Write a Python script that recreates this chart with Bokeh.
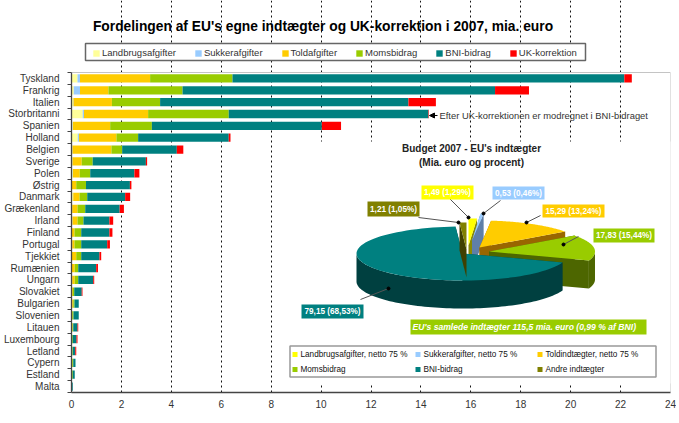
import numpy as np
from bokeh.embed import file_html
from bokeh.resources import INLINE
from bokeh.plotting import figure
from bokeh.models import (ColumnDataSource, FixedTicker, Label, Legend, LegendItem, Range1d,
                          Arrow, NormalHead)

categories = ["Tyskland", "Frankrig", "Italien", "Storbritanni", "Spanien", "Holland", "Belgien",
              "Sverige", "Polen", "Østrig", "Danmark", "Grækenland", "Irland", "Finland", "Portugal",
              "Tjekkiet", "Rumænien", "Ungarn", "Slovakiet", "Bulgarien", "Slovenien", "Litauen",
              "Luxembourg", "Letland", "Cypern", "Estland", "Malta"]
landbrug = [.24, .09, .06, .45, .05, .25, .03, .03, .05, .01, .06, .02, .03, .01, .02, .01, .01, .02, .01, .02, .01, .01, 0, 0, 0, 0, 0]
sukker = [.10, .25, .02, .05, .01, .05, .01, .01, .01, .01, .01, .01, .01, .01, .01, .01, .01, .01, .01, .01, 0, 0, 0, 0, 0, 0, 0]
told = [2.81, 1.14, 1.54, 2.57, 1.49, 1.50, 1.56, .37, .27, .17, .25, .21, .20, .10, .09, .17, .11, .10, .03, .04, .02, .03, .01, .03, .03, .02, .01]
moms = [3.30, 2.97, 1.93, 3.23, 1.67, .87, .43, .44, .42, .39, .31, .31, .24, .27, .27, .20, .14, .14, .06, .05, .05, .03, .04, .02, .04, .03, .01]
bni = [15.70, 12.52, 9.95, 8.00, 6.81, 3.63, 2.19, 2.13, 1.77, 1.76, 1.52, 1.38, 1.04, 1.13, 1.04, .73, .72, .60, .30, .17, .21, .17, .15, .10, .09, .08, .03]
uk = [.30, 1.36, 1.10, .02, .77, .07, .26, .05, .20, .06, .20, .17, .15, .12, .11, .07, .07, .04, .03, 0, 0, .03, .04, .04, 0, 0, 0]
series_names = ["Landbrugsafgifter", "Sukkerafgifter", "Toldafgifter", "Momsbidrag", "BNI-bidrag", "UK-korrektion"]
series_colors = ["#ffff99", "#99ccff", "#ffcc00", "#99cc00", "#008080", "#ff0000"]
x_ticks = list(range(0, 25, 2))

pie_values = [1.49, .53, 15.29, 17.83, 79.15, 1.21]
pie_names = ["Landbrugsafgifter, netto 75 %", "Sukkerafgifter, netto 75 %", "Toldindtægter, netto 75 %",
             "Momsbidrag", "BNI-bidrag", "Andre indtægter"]
pie_colors = ["#ffff00", "#99ccff", "#ffcc00", "#99cc00", "#008080", "#808000"]
pie_side = ["#8a8a00", "#5f7fa8", "#996600", "#4d6600", "#004040", "#404000"]

W, H = 676, 415
FONT = "Liberation Sans"
N = len(categories)
ypos = [N - i - .5 for i in range(N)]
FRAME_H, BAR_AREA_H = 392, 320   # frame reaches the figure top so title and legend sit inside it

p = figure(width=W, height=H, output_backend="svg", toolbar_location=None,
           x_range=(0, 24), y_range=(0, N * FRAME_H / BAR_AREA_H),
           min_border_left=71, min_border_right=6, min_border_top=0, min_border_bottom=23,
           background_fill_color="white", border_fill_color="white")
p.outline_line_color = None
# Extra scale for the inset: one unit is one page pixel
p.extra_x_ranges["px"] = Range1d(71, 670)
p.extra_y_ranges["px"] = Range1d(FRAME_H, 0)
PX = dict(x_range_name="px", y_range_name="px")

p.ygrid.visible = False
p.xgrid.ticker = FixedTicker(ticks=x_ticks)
p.xgrid.bounds = (0, N)
p.xgrid.grid_line_color = "#111111"
p.xgrid.grid_line_dash = [2, 3]
p.xgrid.grid_line_width = 1

xa = p.xaxis[0]
xa.ticker = FixedTicker(ticks=x_ticks)
xa.major_tick_out = 0; xa.major_tick_in = 0; xa.minor_tick_out = 0; xa.minor_tick_in = 0
xa.axis_line_color = "#444444"; xa.axis_line_width = 1.3
xa.major_label_text_font = FONT; xa.major_label_text_font_size = "10px"
xa.major_label_text_color = "#333333"; xa.major_label_standoff = 7

ya = p.yaxis[0]
ya.bounds = (0, N)
ya.ticker = FixedTicker(ticks=ypos, minor_ticks=list(range(N + 1)))
ya.major_label_overrides = {y: c for y, c in zip(ypos, categories)}
ya.major_tick_out = 0; ya.major_tick_in = 0
ya.minor_tick_out = 4; ya.minor_tick_in = 0; ya.minor_tick_line_color = "#444444"
ya.axis_line_color = "#444444"; ya.axis_line_width = 1.3
ya.major_label_text_font = FONT; ya.major_label_text_font_size = "10px"
ya.major_label_text_color = "#333333"; ya.major_label_standoff = 8

# light plot border on the top and right
p.line([0, x_ticks[-1], x_ticks[-1]], [N, N, 0], line_color="#c4c4c4", line_width=1)
# white panel behind the inset
p.quad(left=[272], right=[671], top=[141], bottom=[383], fill_color="white", line_color=None, **PX)
# box around the top legend
p.quad(left=[85], right=[585], top=[43], bottom=[60], fill_color="white", line_color="#666666", line_width=1.5, **PX)

src = ColumnDataSource(dict(y=ypos, **{n: v for n, v in zip(series_names, [landbrug, sukker, told, moms, bni, uk])}))
bars = p.hbar_stack(series_names, y="y", height=.7, color=series_colors, line_color=None, source=src)

legend = Legend(items=[LegendItem(label=n, renderers=[r]) for n, r in zip(series_names, bars)],
                orientation="horizontal", location=(21, 334), margin=0, padding=3,
                spacing=18, glyph_width=8, glyph_height=8, label_standoff=2,
                label_text_font=FONT, label_text_font_size="9.5px", label_text_color="#333333",
                label_height=10, border_line_color=None, background_fill_alpha=0)
p.add_layout(legend, "center")

def label(x, y, text, size, color="#000000", style="normal", align="center", **kw):
    p.add_layout(Label(x=x, y=y, text=text, text_font=FONT, text_font_size=size, text_color=color,
                       text_font_style=style, text_align=align, text_baseline="middle", **PX, **kw))

label(322.5, 26, "Fordelingen af EU's egne indtægter og UK-korrektion i 2007, mia. euro", "13.8px", style="bold")
label(439, 115, "Efter UK-korrektionen er modregnet i BNI-bidraget", "9.4px", "#333333", align="left")
p.add_layout(Arrow(end=NormalHead(size=5, fill_color="#000000", line_color="#000000"),
                   x_start=437, y_start=115, x_end=429, y_end=115, line_color="#000000", line_width=1, **PX))
label(471, 148, "Budget 2007 - EU's indtægter", "10px", "#222222", "bold")
label(471, 162, "(Mia. euro og procent)", "10px", "#222222", "bold")

# --- pie: every slice angle follows from pie_values
RX, RY, DEPTH = 106, 27, 28
centers = [(468, 245), (471.5, 240), (479, 247), (488.5, 251), (462, 253), (466, 249)]
cum = np.cumsum([0] + pie_values) / sum(pie_values) * 2 * np.pi

def rim(c, t):
    return c[0] + RX * np.sin(t), c[1] - RY * np.cos(t)

for i, c in enumerate(centers):
    a, b = cum[i], cum[i + 1]
    for t in (a, b):
        rx, ry = rim(c, t)
        p.patch([c[0], rx, rx, c[0]], [c[1], ry, ry + DEPTH, c[1] + DEPTH], fill_color=pie_side[i], line_color=None, **PX)
    lo, hi = max(a, np.pi / 2), min(b, 3 * np.pi / 2)
    if hi > lo:
        t = np.linspace(lo, hi, 80)
        wx, wy = rim(c, t)
        p.patch(np.r_[wx, wx[::-1]], np.r_[wy, wy[::-1] + DEPTH], fill_color=pie_side[i], line_color=None, **PX)
    t = np.linspace(a, b, 80)
    tx, ty = rim(c, t)
    p.patch(np.r_[c[0], tx], np.r_[c[1], ty], fill_color=pie_colors[i], line_color=None, **PX)

# value boxes with leader lines
boxes = [(421, 473, 185, 199), (492, 544, 186, 199), (542, 604, 204, 217), (593, 654, 228, 242), (301, 363, 304, 318), (367, 419, 201, 216)]
leaders = [((447, 196), (468, 217)), ((500, 200), (483, 213)), ((540, 215), (526, 222)),
           ((578, 236), (563, 244)), ((360, 299), (388, 288)), ((418, 217), (458, 222))]
total = sum(pie_values)
for i, v in enumerate(pie_values):
    (x0, y0), (x1, y1) = leaders[i]
    p.line([x0, x1], [y0, y1], line_color="#555555", line_width=1, **PX)
    p.scatter([x1], [y1], size=3, color="black", **PX)
    l, r, t, b = boxes[i]
    p.quad(left=[l], right=[r], top=[t], bottom=[b], fill_color=pie_colors[i], line_color=None, **PX)
    txt = f"{v:.2f} ({v / total * 100:.2f}%)".replace(".", ",")
    label((l + r) / 2, (t + b) / 2, txt, "8.2px", "white", "bold")

p.quad(left=[410], right=[646], top=[319], bottom=[334], fill_color="#99cc00", line_color=None, **PX)
label(412, 326.5, "EU's samlede indtægter 115,5 mia. euro (0,99 % af BNI)", "8.6px", "white", "bold italic", "left")

# inset legend
p.quad(left=[289.5], right=[655.5], top=[345.5], bottom=[376.5], fill_color="white", line_color="#999999", line_width=1.5, **PX)
col_x = [292, 415, 537, 292, 415, 537]
row_y = [354, 354, 354, 369, 369, 369]
for n, col, x, y in zip(pie_names, pie_colors, col_x, row_y):
    p.quad(left=[x], right=[x + 5], top=[y - 2.5], bottom=[y + 2.5], fill_color=col, line_color=None, **PX)
    label(x + 8, y, n, "8.2px", "#111111", align="left")

open("out.html", "w").write(file_html(p, INLINE))
